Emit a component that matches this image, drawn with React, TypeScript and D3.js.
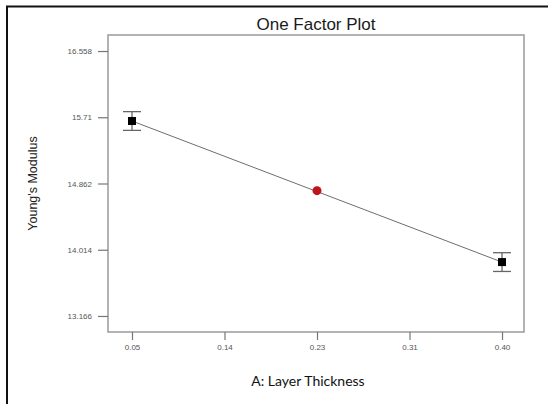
import React, { useEffect, useRef } from 'react';
import * as d3 from 'd3';

// factor levels (A: layer thickness) and predicted response
const levels = [0.05, 0.40];
const means = [15.662, 13.856];
const lsd = [0.12, 0.12];
const centerLevel = [0.225];
const centerValue = [14.77];

const xTickValues = [0.05, 0.1375, 0.225, 0.3125, 0.40];
const xTickLabels = ['0.05', '0.14', '0.23', '0.31', '0.40'];
const yTickValues = [16.558, 15.71, 14.862, 14.014, 13.166];
const yTickLabels = ['16.558', '15.71', '14.862', '14.014', '13.166'];

const width = 548;
const height = 404;

const App = () => {
    const svgRef = useRef<SVGSVGElement>(null);

    const margin = { top: 35, right: 24, bottom: 72, left: 108 };
    const innerWidth = width - margin.left - margin.right;
    const innerHeight = height - margin.top - margin.bottom;

    useEffect(() => {
        const svg = d3.select(svgRef.current);
        svg.selectAll('*').remove();

        // outer frame
        svg.append('path')
            .attr('d', `M7,${height + 10} V6.5 H${width + 10}`)
            .attr('fill', 'none')
            .attr('stroke', '#111')
            .attr('stroke-width', 2);

        const g = svg.append('g')
            .attr('transform', `translate(${margin.left}, ${margin.top})`);

        const xScale = d3.scaleLinear()
            .domain([0.0273, 0.4208])
            .range([0, innerWidth]);

        const yScale = d3.scaleLinear()
            .domain([12.961, 16.763])
            .range([innerHeight, 0]);

        // plot box
        g.append('rect')
            .attr('width', innerWidth)
            .attr('height', innerHeight)
            .attr('fill', 'none')
            .attr('stroke', '#9a9a9a')
            .attr('stroke-width', 1.5);

        const xAxis = d3.axisBottom(xScale)
            .tickValues(xTickValues)
            .tickSize(8)
            .tickPadding(4)
            .tickFormat((d, i) => xTickLabels[i]);

        const xg = g.append('g')
            .attr('transform', `translate(0, ${innerHeight})`)
            .call(xAxis);

        const yAxis = d3.axisLeft(yScale)
            .tickValues(yTickValues)
            .tickSize(10)
            .tickPadding(6)
            .tickFormat((d, i) => yTickLabels[i]);

        const yg = g.append('g').call(yAxis);

        [xg, yg].forEach(ax => {
            ax.select('.domain').remove();
            ax.selectAll('.tick line').attr('stroke', '#777').attr('stroke-width', 1.2);
            ax.selectAll('.tick text')
                .attr('fill', '#555')
                .style('font-family', 'Liberation Sans, Arial, sans-serif')
                .style('font-size', '8px');
        });

        // prediction line
        const line = d3.line<number>()
            .x((d, i) => xScale(levels[i]))
            .y(d => yScale(d));

        g.append('path')
            .datum(means)
            .attr('fill', 'none')
            .attr('stroke', '#6e6e6e')
            .attr('stroke-width', 1)
            .attr('d', line);

        // error bars
        levels.forEach((lv, i) => {
            const x = xScale(lv);
            const y0 = yScale(means[i] + lsd[i]);
            const y1 = yScale(means[i] - lsd[i]);
            const bar = g.append('g')
                .attr('stroke', '#666')
                .attr('stroke-width', 1.3);
            bar.append('line').attr('x1', x).attr('x2', x).attr('y1', y0).attr('y2', y1);
            bar.append('line').attr('x1', x - 9).attr('x2', x + 9).attr('y1', y0).attr('y2', y0);
            bar.append('line').attr('x1', x - 9).attr('x2', x + 9).attr('y1', y1).attr('y2', y1);
        });

        // design points
        g.selectAll('.pt')
            .data(means)
            .enter()
            .append('rect')
            .attr('class', 'pt')
            .attr('x', (d, i) => xScale(levels[i]) - 4)
            .attr('y', d => yScale(d) - 4)
            .attr('width', 8)
            .attr('height', 8)
            .attr('fill', '#000');

        // center point
        g.selectAll('.cp')
            .data(centerValue)
            .enter()
            .append('circle')
            .attr('class', 'cp')
            .attr('cx', (d, i) => xScale(centerLevel[i]))
            .attr('cy', d => yScale(d))
            .attr('r', 4.5)
            .attr('fill', '#c0141c');

        // title and labels
        svg.append('text')
            .attr('x', margin.left + innerWidth / 2)
            .attr('y', 30)
            .attr('text-anchor', 'middle')
            .style('font-family', 'Liberation Sans, Arial, sans-serif')
            .style('font-size', '17px')
            .attr('fill', '#1a1a1a')
            .text('One Factor Plot');

        svg.append('text')
            .attr('transform', `translate(37, ${margin.top + innerHeight / 2}) rotate(-90)`)
            .attr('text-anchor', 'middle')
            .style('font-family', 'Liberation Sans, Arial, sans-serif')
            .style('font-size', '12.5px')
            .attr('fill', '#222')
            .text("Young's Modulus");

        svg.append('text')
            .attr('x', 308)
            .attr('y', 386)
            .attr('text-anchor', 'middle')
            .style('font-family', 'Lato, sans-serif')
            .style('font-size', '14px')
            .attr('fill', '#111')
            .text('A: Layer Thickness');
    }, []);

    return (
        <svg ref={svgRef} width={width} height={height}
            style={{ position: 'absolute', left: 0, top: 0, background: '#fff' }} />
    );
};

export default App;
